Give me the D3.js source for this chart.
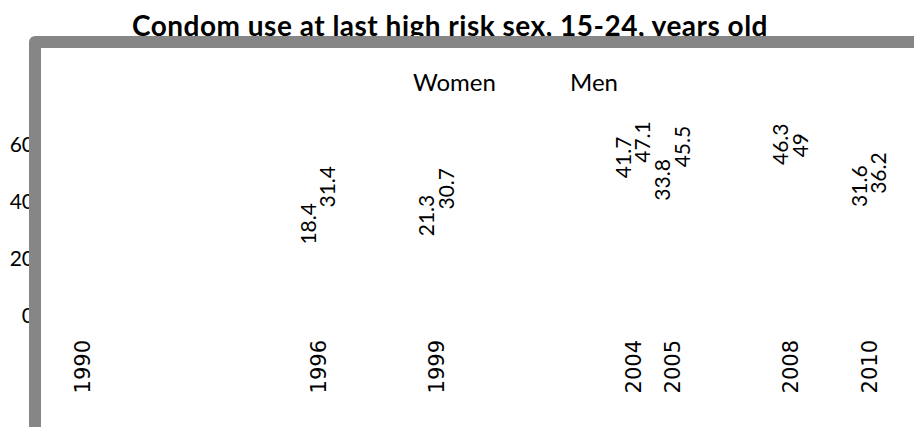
<!DOCTYPE html>
<html>
<head>
<meta charset="utf-8">
<script src="https://cdn.jsdelivr.net/npm/d3@7"></script>
<style>
  body { margin: 0; background: #fff; }
  svg { display: block; }
</style>
</head>
<body>
<div id="chart"></div>
<script>
"use strict";
const years = [1990, 1996, 1999, 2004, 2005, 2008, 2010];
const women = [null, 18.4, 21.3, 41.7, 33.8, 46.3, 31.6];
const men = [null, 31.4, 30.7, 47.1, 45.5, 49, 36.2];
const yTicks = [0, 20, 40, 60];
const seriesNames = ["Women", "Men"];
const title = "Condom use at last high risk sex, 15-24, years old";

const width = 914;
const height = 427;
const font = "Lato, 'Open Sans', sans-serif";

const svg = d3.select("#chart")
  .append("svg")
  .attr("width", width)
  .attr("height", height);

const x = d3.scaleLinear()
  .domain([1990, 2010])
  .range([82, 869]);

const y = d3.scaleLinear()
  .domain([0, 60])
  .range([316, 145]);

// y axis labels (sit partly under the frame)
const yAxis = svg.append("g")
  .attr("transform", "translate(34,0)")
  .call(d3.axisLeft(y).tickValues(yTicks).tickSize(0).tickPadding(0));
yAxis.select(".domain").remove();
yAxis.selectAll("text")
  .style("font-family", font)
  .style("font-size", "21px")
  .attr("fill", "#000");

// x axis, rotated year labels
const xAxis = svg.append("g")
  .attr("transform", "translate(0,340)")
  .call(d3.axisBottom(x).tickValues(years).tickFormat(d3.format("d")).tickSize(0));
xAxis.select(".domain").remove();
xAxis.selectAll("text")
  .attr("transform", "rotate(-90)")
  .attr("x", 0)
  .attr("y", 0)
  .attr("dy", "0.35em")
  .attr("text-anchor", "end")
  .style("font-family", "'DejaVu Sans', sans-serif")
  .style("font-size", "21px")
  .attr("fill", "#000");

// value labels, one pair per year
const rows = years.map((yr, i) => ({ year: yr, women: women[i], men: men[i] }));
const offsets = { women: -9.5, men: 10 };

["women", "men"].forEach(key => {
  svg.append("g")
    .selectAll("text")
    .data(rows.filter(d => d[key] != null))
    .join("text")
    .attr("transform", d => `translate(${x(d.year) + offsets[key]},${y(d[key]) - 19}) rotate(-90)`)
    .attr("dy", "0.35em")
    .attr("text-anchor", "start")
    .style("font-family", font)
    .style("font-size", "21px")
    .text(d => d[key]);
});

// legend
const legendX = [413, 570];
svg.append("g")
  .selectAll("text")
  .data(seriesNames)
  .join("text")
  .attr("x", (d, i) => legendX[i])
  .attr("y", 83)
  .attr("dy", "0.35em")
  .style("font-family", font)
  .style("font-size", "24px")
  .text(d => d);

// title
svg.append("text")
  .attr("x", 450)
  .attr("y", 36)
  .attr("text-anchor", "middle")
  .style("font-family", font)
  .style("font-size", "28px")
  .style("font-weight", "bold")
  .style("letter-spacing", "0.5px")
  .text(title);

// gray frame drawn on top, runs off the right and bottom
svg.append("path")
  .attr("d", "M35,460 L35,42 L960,42")
  .attr("fill", "none")
  .attr("stroke", "#868686")
  .attr("stroke-width", 12)
  .attr("stroke-linejoin", "round");
</script>
</body>
</html>
